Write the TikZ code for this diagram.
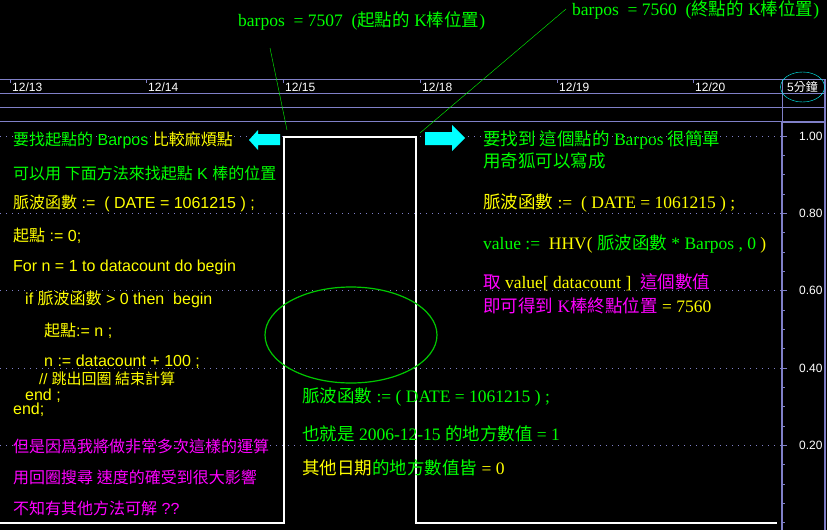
\documentclass[tikz,border=0pt]{standalone}
\usepackage{fontspec}
\setmainfont{Liberation Serif}
\setsansfont{Liberation Sans}
\newfontfamily\cjk{Noto Sans CJK TC}
\newcommand{\zh}[1]{{\cjk #1}}
\usepackage{tikz}

\definecolor{chartbg}{RGB}{0,0,0}
\definecolor{gridline}{RGB}{128,128,200}
\definecolor{txtgreen}{RGB}{0,255,0}
\definecolor{txtyellow}{RGB}{255,255,0}
\definecolor{txtpink}{RGB}{255,0,255}
\definecolor{markcyan}{RGB}{0,255,255}
\definecolor{ringgreen}{RGB}{0,200,0}

\tikzset{
  codetext/.style={anchor=west, inner sep=0pt, font=\sffamily\fontsize{16}{16}\selectfont},
  notetext/.style={anchor=west, inner sep=0pt, font=\rmfamily\fontsize{17.5}{17.5}\selectfont},
  smalltext/.style={anchor=west, inner sep=0pt, text=white, font=\sffamily\fontsize{12}{12}\selectfont},
  dotgrid/.style={gridline, dash pattern=on 1pt off 5pt}
}

\begin{document}
\begin{tikzpicture}[x=1pt,y=-1pt]
    % Background
    \fill[chartbg] (0,0) rectangle (827,530);
    \useasboundingbox (0,0) rectangle (827,530);

    % Draw header lines
    \foreach \yy in {79,93,107,121} \draw[gridline] (0,\yy) -- (824,\yy);
    \draw[gridline] (782,79) -- (782,122);
    \draw[gridline, line width=2pt] (782,122) -- (824,122);
    \draw[gridline, line width=2pt] (782,122) -- (782,530);
    \draw[gridline, line width=2pt] (825,79) -- (825,530);

    % Date labels
    \foreach \xx/\dd in {10/13, 146/14, 283/15, 420/18, 557/19, 693/20} {
        \draw[gridline] (\xx,79) -- (\xx,83);
        \node[smalltext] (date\dd) at (\xx+2,87) {12/\dd};
    }
    \node[smalltext] (period) at (787,87) {5\zh{分鐘}};
    \draw[markcyan] (period.center) ellipse [x radius=22, y radius=15];

    % Value axis and dotted grid
    \foreach \vv/\yy in {1.00/136, 0.80/213, 0.60/290, 0.40/368, 0.20/445} {
        \draw[dotgrid] (0,\yy) -- (782,\yy);
        \draw[gridline] (782,\yy) -- (787,\yy);
        \node[smalltext] (val\yy) at (799,\yy) {\vv};
    }
    \foreach \k in {0,...,20} \draw[gridline] (782,136+\k*19.32) -- (785,136+\k*19.32);

    % Pulse line
    \draw[white, line width=1.1pt] (0,523) -- (284,523) -- (284,137) -- (416,137) -- (416,523) -- (777,523);
    \draw[ringgreen, line width=1.2pt] (351,335) ellipse [x radius=86, y radius=48];

    % Titles and their pointers
    \node[notetext, text=txtgreen] (titlestart) at (238,21) {barpos \ = 7507 \ (\zh{起點的} K\zh{棒位置})};
    \node[notetext, text=txtgreen] (titleend) at (572,10) {barpos \ = 7560 \ (\zh{終點的} K\zh{棒位置})};
    \coordinate (startfoot) at (270,48);
    \coordinate (startbar) at (287,130);
    \coordinate (endfoot) at (566,9);
    \coordinate (endbar) at (420,133);
    \draw[txtgreen] (startfoot) -- (startbar);
    \draw[txtgreen] (endfoot) -- (endbar);

    % Cyan arrows
    \fill[markcyan] (249,140) -- (258,130) -- (258,134) -- (280,134) -- (280,145) -- (258,145) -- (258,150) -- cycle;
    \fill[markcyan] (465,138) -- (452,125) -- (452,132) -- (425,132) -- (425,145) -- (452,145) -- (452,151) -- cycle;

    % Left notes
    \node[codetext] (left1) at (13,140) {\color{txtgreen}\zh{要找起點的} Barpos \color{txtyellow}\zh{比較麻煩點}};
    \node[codetext, text=txtgreen] (left2) at (13,173) {\zh{可以用 下面方法來找起點} K \zh{棒的位置}};
    \node[codetext, text=txtyellow] (left3) at (13,203) {\zh{脈波函數} := \ ( DATE = 1061215 ) ;};
    \node[codetext, text=txtyellow] (left4) at (13,236) {\zh{起點} := 0;};
    \node[codetext, text=txtyellow] (left5) at (13,267) {For n = 1 to datacount do begin};
    \node[codetext, text=txtyellow] (left6) at (25,299) {if \zh{脈波函數} > 0 then \ begin};
    \node[codetext, text=txtyellow] (left7) at (44,331) {\zh{起點}:= n ;};
    \node[codetext, text=txtyellow] (left8) at (44,362) {n := datacount + 100 ;};
    \node[codetext, text=txtyellow, font=\sffamily\fontsize{15}{15}\selectfont] (left9) at (39,379) {// \zh{跳出回圈 結束計算}};
    \node[codetext, text=txtyellow] (left10) at (25,396) {end ;};
    \node[codetext, text=txtyellow] (left11) at (13,410) {end;};
    \node[codetext, text=txtpink] (left12) at (13,446) {\zh{但是因爲我將做非常多次這樣的運算}};
    \node[codetext, text=txtpink] (left13) at (13,477) {\zh{用回圈搜尋 速度的確受到很大影響}};
    \node[codetext, text=txtpink] (left14) at (13,508) {\zh{不知有其他方法可解} ??};

    % Right notes
    \node[notetext, text=txtgreen] (right1) at (483,140) {\zh{要找到 這個點的} Barpos \zh{很簡單}};
    \node[notetext, text=txtgreen] (right2) at (483,161) {\zh{用奇狐可以寫成}};
    \node[notetext, text=txtyellow] (right3) at (483,203) {\zh{脈波函數} := \ ( DATE = 1061215 ) ;};
    \node[notetext] (right4) at (483,244) {\color{txtgreen}value := \ \color{txtyellow}HHV( \color{txtgreen}\zh{脈波函數} * Barpos , 0 \color{txtyellow})};
    \node[notetext] (right5) at (483,282) {\color{txtpink}\zh{取} \color{txtyellow}value[ datacount ] \ \color{txtpink}\zh{這個數值}};
    \node[notetext] (right6) at (483,306) {\color{txtpink}\zh{即可得到} K\zh{棒終點位置} \color{txtyellow}= 7560};

    % Bottom notes
    \node[notetext, text=txtgreen] (bottom1) at (302,397) {\zh{脈波函數} := ( DATE = 1061215 ) ;};
    \node[notetext, text=txtgreen] (bottom2) at (302,434) {\zh{也就是} 2006-12-15 \zh{的地方數值} = 1};
    \node[notetext] (bottom3) at (302,468) {\color{txtyellow}\zh{其他日期}\color{txtgreen}\zh{的地方數值皆} \color{txtyellow}= 0};
\end{tikzpicture}
\end{document}
